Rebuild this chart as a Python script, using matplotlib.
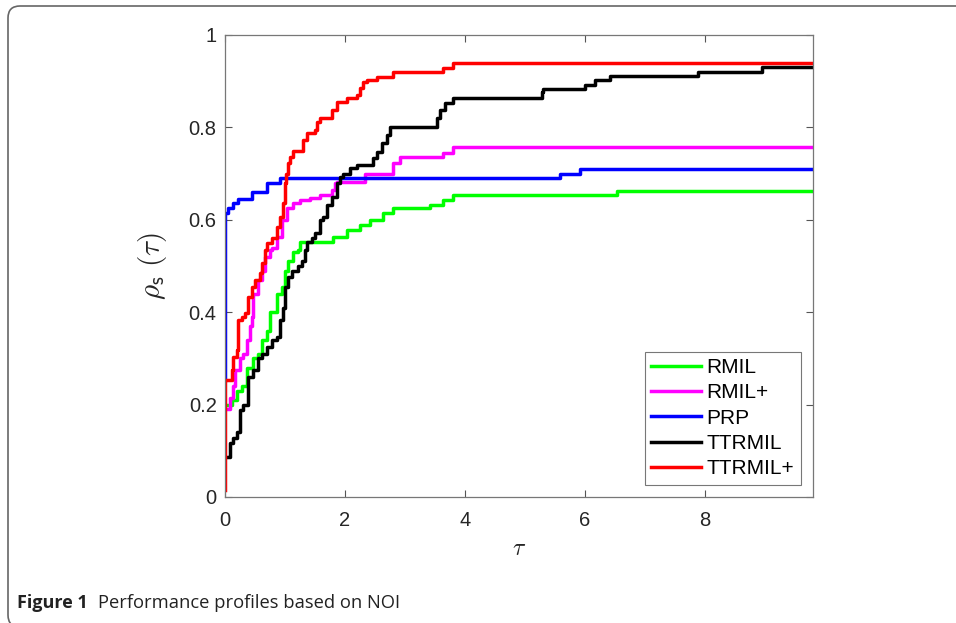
import matplotlib
matplotlib.use('Agg')
import matplotlib.pyplot as plt
from matplotlib.patches import FancyBboxPatch
from matplotlib.transforms import IdentityTransform

plt.rcParams['font.family'] = ['Liberation Sans', 'DejaVu Sans']
plt.rcParams['mathtext.fontset'] = 'cm'

XMAX = 9.8

# performance profile breakpoints (tau, rho), step-post
rmil_t = [0, 0.117, 0.2, 0.283, 0.367, 0.467, 0.55, 0.617, 0.7, 0.75, 0.867, 0.95, 1.0,
          1.05, 1.133, 1.217, 1.25, 1.8, 2.033, 2.25, 2.417, 2.633, 2.8, 3.417, 3.633,
          3.8, 6.533]
rmil_r = [0.2, 0.21, 0.23, 0.24, 0.28, 0.30, 0.31, 0.34, 0.36, 0.40, 0.44, 0.455, 0.49,
          0.51, 0.53, 0.535, 0.552, 0.563, 0.578, 0.589, 0.6, 0.615, 0.625, 0.632, 0.643,
          0.654, 0.662]

rmilp_t = [0, 0.083, 0.133, 0.167, 0.25, 0.3, 0.367, 0.417, 0.45, 0.467, 0.55, 0.617,
           0.667, 0.75, 0.783, 0.867, 0.95, 1.033, 1.133, 1.25, 1.417, 1.583, 1.783,
           1.833, 1.867, 2.333, 2.8, 2.917, 3.633, 3.8]
rmilp_r = [0.19, 0.215, 0.24, 0.275, 0.30, 0.31, 0.34, 0.37, 0.39, 0.44, 0.47, 0.49,
           0.52, 0.535, 0.54, 0.563, 0.60, 0.625, 0.636, 0.643, 0.647, 0.654, 0.665,
           0.68, 0.682, 0.70, 0.722, 0.736, 0.745, 0.758]

prp_t = [0, 0.0, 0.05, 0.133, 0.217, 0.45, 0.7, 0.917, 5.583, 5.917]
prp_r = [0.253, 0.615, 0.625, 0.636, 0.645, 0.66, 0.68, 0.69, 0.70, 0.711]

ttrmil_t = [0.05, 0.083, 0.133, 0.2, 0.25, 0.3, 0.383, 0.467, 0.55, 0.617, 0.7, 0.783,
            0.867, 0.917, 0.967, 1.0, 1.05, 1.117, 1.217, 1.283, 1.333, 1.367, 1.45,
            1.5, 1.583, 1.633, 1.7, 1.783, 1.867, 1.917, 1.967, 2.083, 2.2, 2.467, 2.533,
            2.617, 2.7, 2.75, 3.533, 3.583, 3.667, 3.8, 5.283, 5.3, 6.0, 6.167, 6.417,
            7.883, 8.95]
ttrmil_r = [0.087, 0.117, 0.128, 0.141, 0.188, 0.2, 0.26, 0.275, 0.30, 0.31, 0.325,
            0.34, 0.347, 0.383, 0.41, 0.455, 0.476, 0.49, 0.50, 0.51, 0.535, 0.552, 0.56,
            0.571, 0.60, 0.606, 0.632, 0.65, 0.68, 0.693, 0.70, 0.712, 0.718, 0.733,
            0.747, 0.766, 0.784, 0.80, 0.82, 0.838, 0.852, 0.864, 0.877, 0.883, 0.892,
            0.903, 0.911, 0.92, 0.93]

ttrmilp_t = [0, 0, 0.117, 0.133, 0.2, 0.217, 0.283, 0.333, 0.383, 0.45, 0.5, 0.583,
             0.617, 0.667, 0.7, 0.783, 0.867, 0.917, 0.967, 1.0, 1.017, 1.05, 1.083,
             1.133, 1.3, 1.367, 1.5, 1.533, 1.583, 1.783, 1.867, 2.033, 2.2, 2.25, 2.3,
             2.367, 2.533, 2.8, 3.633, 3.8]
ttrmilp_r = [0.015, 0.253, 0.275, 0.303, 0.318, 0.383, 0.39, 0.398, 0.433, 0.455, 0.47,
             0.485, 0.506, 0.535, 0.55, 0.56, 0.584, 0.606, 0.636, 0.68, 0.70, 0.722,
             0.736, 0.75, 0.773, 0.788, 0.794, 0.812, 0.82, 0.838, 0.855, 0.864, 0.87,
             0.885, 0.898, 0.903, 0.909, 0.92, 0.928, 0.94]

series = [
    ('RMIL', rmil_t, rmil_r, '#00ff00'),
    ('RMIL+', rmilp_t, rmilp_r, '#ff00ff'),
    ('PRP', prp_t, prp_r, '#0000ff'),
    ('TTRMIL', ttrmil_t, ttrmil_r, '#000000'),
    ('TTRMIL+', ttrmilp_t, ttrmilp_r, '#ff0000'),
]

fig = plt.figure(figsize=(9.56, 6.23), dpi=100)
ax = fig.add_axes([225 / 956, 1 - 497 / 623, 588 / 956, 462 / 623])

for name, t, r, c in series:
    ax.plot(list(t) + [XMAX], list(r) + [r[-1]], drawstyle='steps-post',
            color=c, lw=2.5, label=name)

ax.set_xlim(0, XMAX)
ax.set_ylim(0, 1)
ax.set_xticks([0, 2, 4, 6, 8])
ax.set_yticks([0, 0.2, 0.4, 0.6, 0.8, 1])
ax.set_yticklabels(['0', '0.2', '0.4', '0.6', '0.8', '1'])
ax.tick_params(direction='in', top=True, right=True, length=5, width=0.8,
               color='#555555', labelsize=14.5, labelcolor='#262626')
ax.tick_params(axis='x', pad=10)
ax.tick_params(axis='y', pad=6)
for s in ax.spines.values():
    s.set_color('#777777')
    s.set_linewidth(0.9)

ax.set_xlabel(r'$\tau$', fontsize=17, color='#262626', labelpad=6)
ax.set_ylabel(r'$\rho_{\mathsf{s}}\ (\tau)$', fontsize=21, color='#262626', labelpad=14)

leg = ax.legend(loc='lower right', fontsize=15, frameon=True, fancybox=False,
                edgecolor='#555555', handlelength=2.4, handletextpad=0.25,
                labelspacing=0.3, borderaxespad=0.6, borderpad=0.3)
leg.get_frame().set_linewidth(0.8)

# outer rounded frame
frame = FancyBboxPatch((8, -4), 970, 621, boxstyle='round,pad=0,rounding_size=12',
                       transform=IdentityTransform(), fill=False,
                       edgecolor='#666666', linewidth=1.2)
fig.add_artist(frame)

fig.text(17 / 956, 1 - 603 / 623, 'Figure 1', fontsize=13, fontweight='bold',
         family='Open Sans', va='center', color='#222222')
fig.text(98 / 956, 1 - 603 / 623, 'Performance profiles based on NOI', fontsize=13.2,
         family='Open Sans', va='center', color='#222222')

fig.savefig('out.png', dpi=100)
